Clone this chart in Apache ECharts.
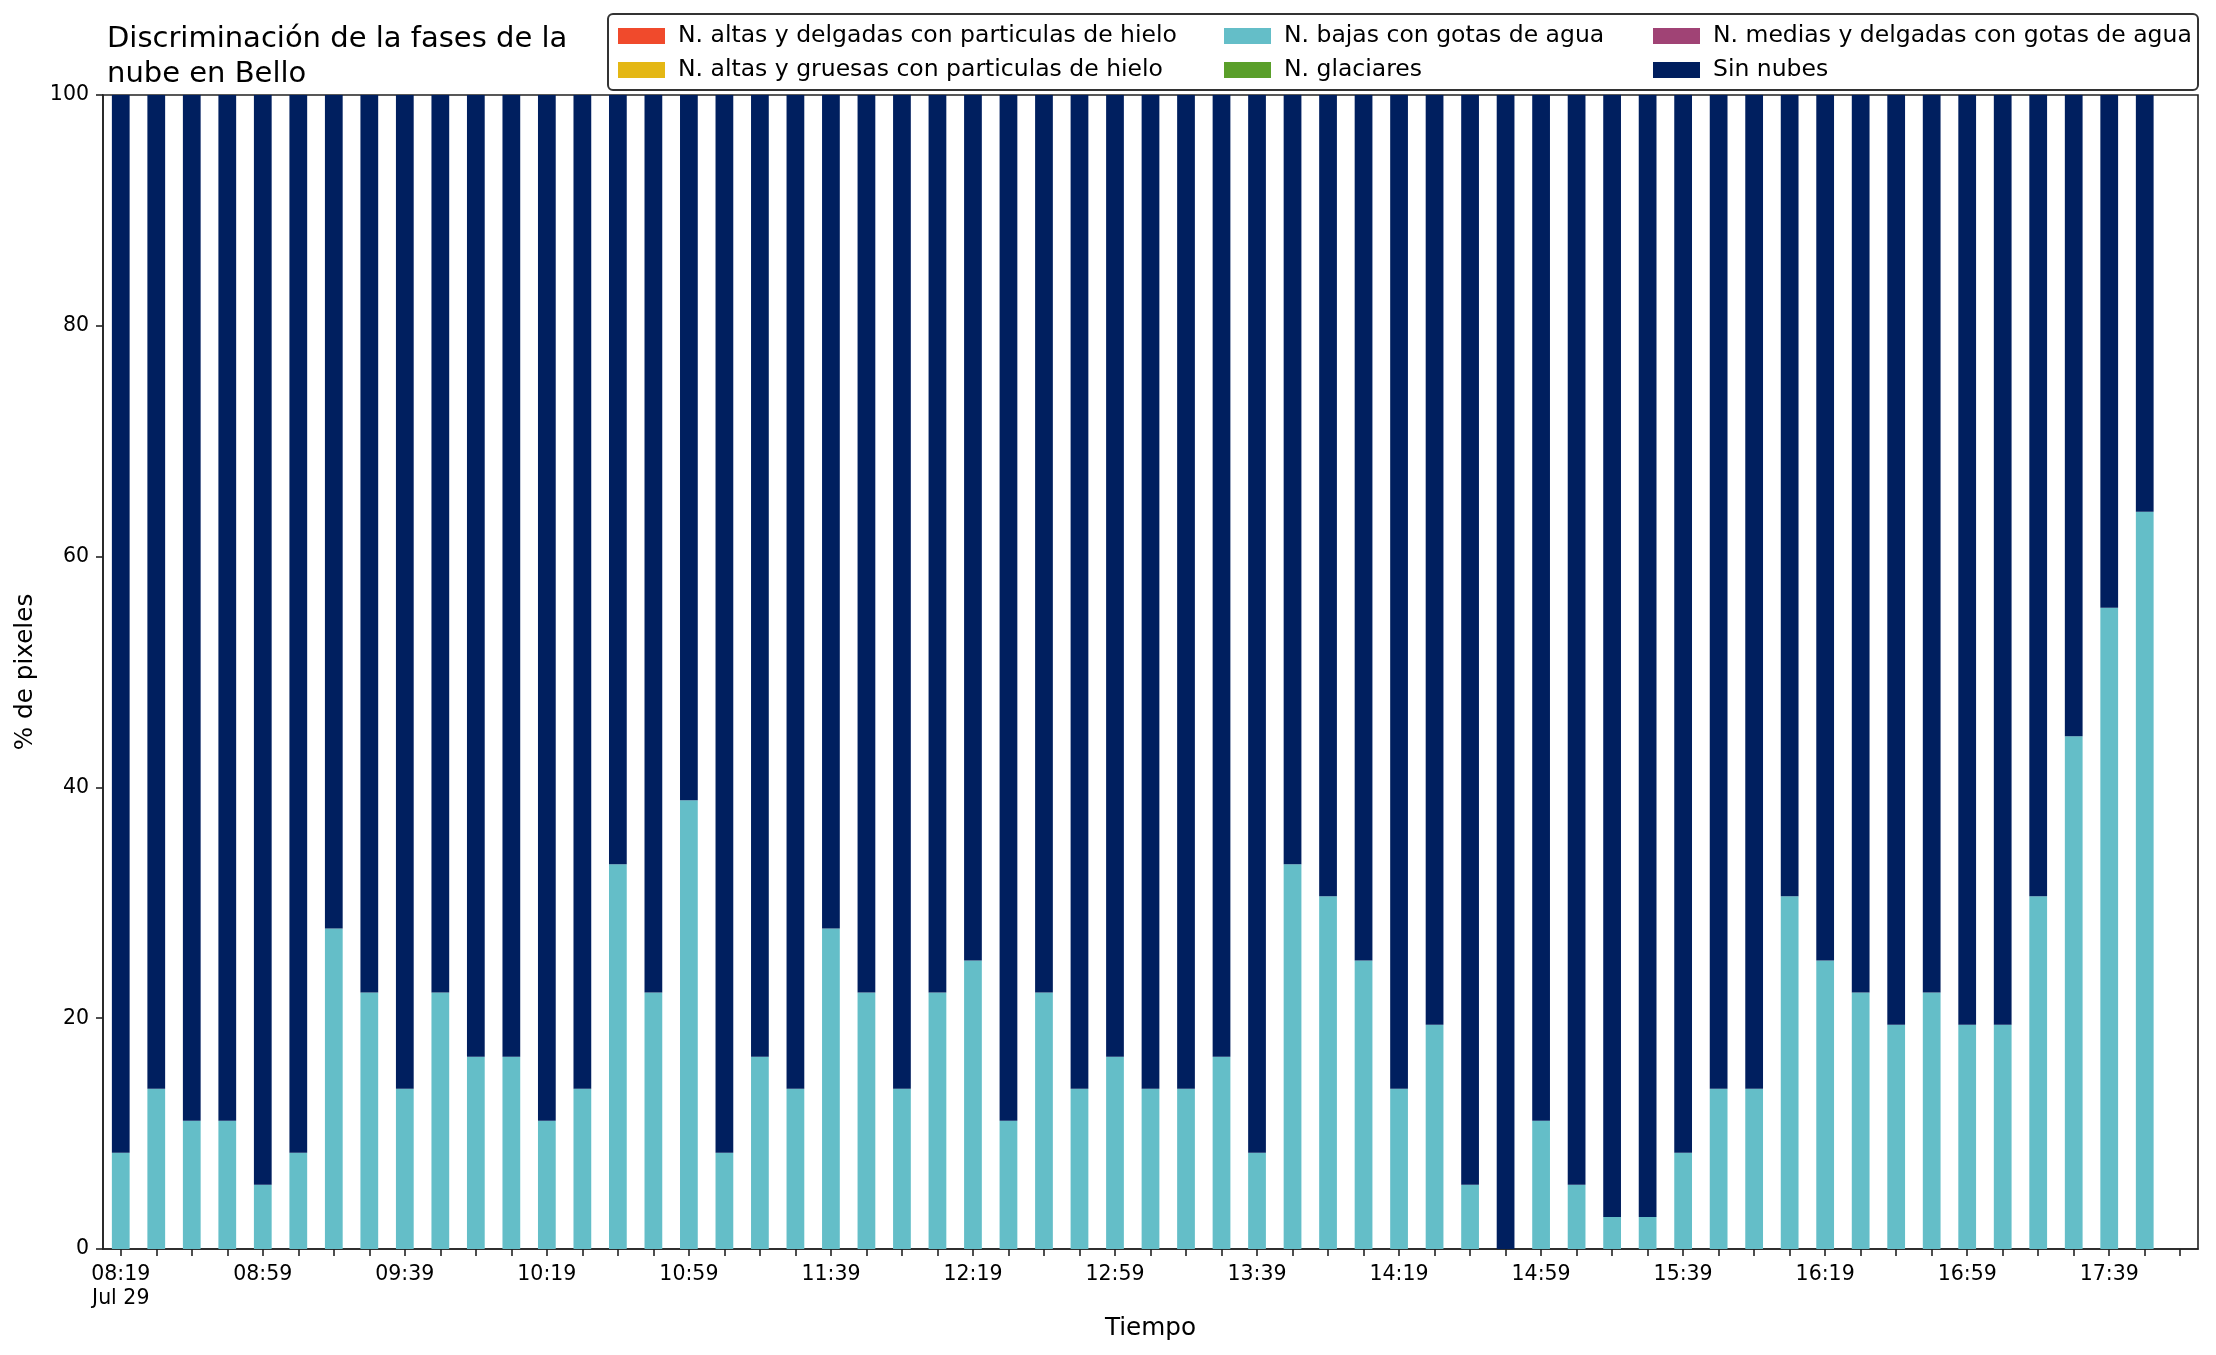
<!DOCTYPE html>
<html>
<head>
<meta charset="utf-8">
<script src="https://cdn.jsdelivr.net/npm/echarts@6/dist/echarts.min.js"></script>
<style>
html,body{margin:0;padding:0;background:#fff;}
#chart{width:2216px;height:1355px;}
</style>
</head>
<body>
<div id="chart"></div>
<script>
const times = ['08:19','08:29','08:39','08:49','08:59','09:09','09:19','09:29','09:39','09:49',
  '09:59','10:09','10:19','10:29','10:39','10:49','10:59','11:09','11:19','11:29',
  '11:39','11:49','11:59','12:09','12:19','12:29','12:39','12:49','12:59','13:09',
  '13:19','13:29','13:39','13:49','13:59','14:09','14:19','14:29','14:39','14:49',
  '14:59','15:09','15:19','15:29','15:39','15:49','15:59','16:09','16:19','16:29',
  '16:39','16:49','16:59','17:09','17:19','17:29','17:39','17:49','17:59'];
const dateLabel = 'Jul 29';

const seriesNames = [
  'N. altas y delgadas con particulas de hielo',
  'N. altas y gruesas con particulas de hielo',
  'N. bajas con gotas de agua',
  'N. glaciares',
  'N. medias y delgadas con gotas de agua',
  'Sin nubes'
];

const altasDelgadas = [0,0,0,0,0,0,0,0,0,0, 0,0,0,0,0,0,0,0,0,0, 0,0,0,0,0,0,0,0,0,0, 0,0,0,0,0,0,0,0,0,0, 0,0,0,0,0,0,0,0,0,0, 0,0,0,0,0,0,0,0,null];
const altasGruesas = [0,0,0,0,0,0,0,0,0,0, 0,0,0,0,0,0,0,0,0,0, 0,0,0,0,0,0,0,0,0,0, 0,0,0,0,0,0,0,0,0,0, 0,0,0,0,0,0,0,0,0,0, 0,0,0,0,0,0,0,0,null];
const bajasAgua = [8.33,13.89,11.11,11.11,5.56,8.33,27.78,22.22,13.89,22.22,
  16.67,16.67,11.11,13.89,33.33,22.22,38.89,8.33,16.67,13.89,
  27.78,22.22,13.89,22.22,25.00,11.11,22.22,13.89,16.67,13.89,
  13.89,16.67,8.33,33.33,30.56,25.00,13.89,19.44,5.56,0,
  11.11,5.56,2.78,2.78,8.33,13.89,13.89,30.56,25.00,22.22,
  19.44,22.22,19.44,19.44,30.56,44.44,55.56,63.89,null];
const glaciares = [0,0,0,0,0,0,0,0,0,0, 0,0,0,0,0,0,0,0,0,0, 0,0,0,0,0,0,0,0,0,0, 0,0,0,0,0,0,0,0,0,0, 0,0,0,0,0,0,0,0,0,0, 0,0,0,0,0,0,0,0,null];
const mediasAgua = [0,0,0,0,0,0,0,0,0,0, 0,0,0,0,0,0,0,0,0,0, 0,0,0,0,0,0,0,0,0,0, 0,0,0,0,0,0,0,0,0,0, 0,0,0,0,0,0,0,0,0,0, 0,0,0,0,0,0,0,0,null];
const sinNubes = [91.67,86.11,88.89,88.89,94.44,91.67,72.22,77.78,86.11,77.78,
  83.33,83.33,88.89,86.11,66.67,77.78,61.11,91.67,83.33,86.11,
  72.22,77.78,86.11,77.78,75.00,88.89,77.78,86.11,83.33,86.11,
  86.11,83.33,91.67,66.67,69.44,75.00,86.11,80.56,94.44,100,
  88.89,94.44,97.22,97.22,91.67,86.11,86.11,69.44,75.00,77.78,
  80.56,77.78,80.56,80.56,69.44,55.56,44.44,36.11,null];

const yTicks = [0,20,40,60,80,100];

const colors = ['#F04A2C','#E4B714','#64BEC8','#5A9F2A','#A04375','#001F5F'];
const dataArrays = [altasDelgadas, altasGruesas, bajasAgua, glaciares, mediasAgua, sinNubes];

const FONT = 'DejaVu Sans';
const AX = '#222';

const chart = echarts.init(document.getElementById('chart'), null, {renderer:'canvas'});

const legendBase = {
  orient: 'vertical',
  top: 24,
  itemGap: 10,
  itemWidth: 47,
  itemHeight: 16,
  padding: 0,
  icon: 'rect',
  selectedMode: false,
  textStyle: {fontFamily: FONT, fontSize: 23.5, color: '#000', lineHeight: 20, padding: [0,0,0,8]}
};

const option = {
  backgroundColor: '#fff',
  animation: false,
  title: {
    text: 'Discriminación de la fases de la\nnube en Bello',
    left: 107,
    top: 22,
    padding: 0,
    textStyle: {fontFamily: FONT, fontSize: 29, fontWeight: 'normal', color: '#000', lineHeight: 35}
  },
  graphic: [{
    type: 'rect',
    z: 0,
    shape: {x: 608, y: 14, width: 1590, height: 76, r: 5},
    style: {fill: '#fff', stroke: '#333', lineWidth: 2}
  }],
  legend: [
    Object.assign({}, legendBase, {left: 618, data: [seriesNames[0], seriesNames[1]]}),
    Object.assign({}, legendBase, {left: 1224, data: [seriesNames[2], seriesNames[3]]}),
    Object.assign({}, legendBase, {left: 1653, data: [seriesNames[4], seriesNames[5]]})
  ],
  grid: {
    left: 103, right: 18, top: 95, bottom: 106,
    show: true, borderColor: AX, borderWidth: 1.6, backgroundColor: 'transparent'
  },
  xAxis: {
    type: 'category',
    data: times,
    boundaryGap: true,
    name: 'Tiempo',
    nameLocation: 'middle',
    nameGap: 66,
    nameTextStyle: {fontFamily: FONT, fontSize: 24.7, color: '#000'},
    axisLine: {show: true, lineStyle: {color: AX, width: 1.6}},
    axisTick: {show: true, alignWithLabel: true, interval: 0, length: 7, lineStyle: {color: AX, width: 1.6}},
    axisLabel: {
      interval: 3, margin: 14,
      fontFamily: FONT, fontSize: 20.5, color: '#000', lineHeight: 24,
      formatter: function (v, i) { return i === 0 ? v + '\n' + dateLabel : v; }
    },
    splitLine: {show: false}
  },
  yAxis: {
    type: 'value',
    min: yTicks[0], max: yTicks[yTicks.length - 1], interval: 20,
    name: '% de pixeles',
    nameLocation: 'middle',
    nameGap: 65,
    nameTextStyle: {fontFamily: FONT, fontSize: 24.7, color: '#000'},
    axisLine: {show: true, lineStyle: {color: AX, width: 1.6}},
    axisTick: {show: true, length: 7, lineStyle: {color: AX, width: 1.6}},
    axisLabel: {margin: 14, fontFamily: FONT, fontSize: 20.5, color: '#000'},
    splitLine: {show: false}
  },
  series: seriesNames.map(function (n, k) {
    return {
      name: n,
      type: 'bar',
      stack: 'total',
      barWidth: '50%',
      data: dataArrays[k],
      itemStyle: {color: colors[k]},
      emphasis: {disabled: true}
    };
  })
};

chart.setOption(option);
</script>
</body>
</html>
